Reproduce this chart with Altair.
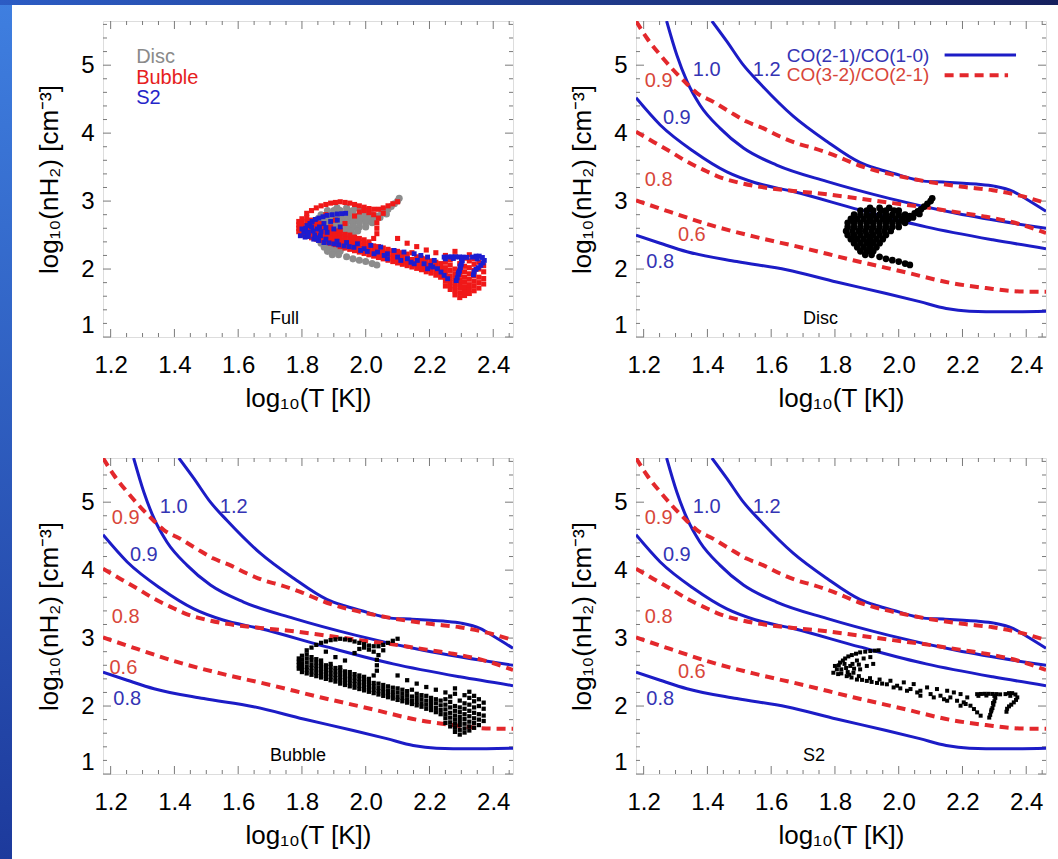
import altair as alt
import pandas as pd

FONT = "Liberation Sans"
W, H = 410, 316
BLUE_LINE = "#1c1cc6"
RED_LINE = "#e3282c"
BLUE_TXT = "#3434b4"
RED_TXT = "#d8463a"
TICK = "#7a7a7a"

# ---------------- axes ----------------
X_DOMAIN = [1.176, 2.462]
Y_DOMAIN = [1.0, 5.65]
X_TICKS = [1.2, 1.4, 1.6, 1.8, 2.0, 2.2, 2.4]
Y_TICKS = [1, 2, 3, 4, 5]
X_MINOR = [1.25, 1.30, 1.35, 1.45, 1.50, 1.55, 1.65, 1.70, 1.75, 1.85, 1.90, 1.95,
           2.05, 2.10, 2.15, 2.25, 2.30, 2.35, 2.45]
Y_MINOR = [1.2, 1.4, 1.6, 1.8, 2.2, 2.4, 2.6, 2.8, 3.2, 3.4, 3.6, 3.8, 4.2, 4.4, 4.6,
           4.8, 5.2, 5.4, 5.6]
X_TITLE = "log₁₀(T [K])"
Y_TITLE = "log₁₀(nH₂) [cm⁻³]"

# ---------------- model contours ----------------
# CO(2-1)/CO(1-0)  (solid blue)
CO21_08_X = [1.176, 1.252, 1.336, 1.492, 1.648, 1.805, 1.961, 2.066, 2.149, 2.222, 2.326, 2.462]
CO21_08_Y = [2.50, 2.38, 2.255, 2.11, 1.99, 1.81, 1.64, 1.52, 1.42, 1.38, 1.37, 1.38]
CO21_09_X = [1.176, 1.252, 1.357, 1.461, 1.55, 1.669, 1.878, 2.086, 2.295, 2.462]
CO21_09_Y = [4.52, 4.12, 3.73, 3.43, 3.27, 3.14, 2.87, 2.62, 2.43, 2.30]
CO21_10_X = [1.272, 1.304, 1.336, 1.377, 1.44, 1.513, 1.617, 1.774, 1.97, 2.18, 2.462]
CO21_10_Y = [5.65, 5.15, 4.76, 4.41, 4.07, 3.78, 3.53, 3.29, 3.04, 2.82, 2.60]
CO21_12_X = [1.414, 1.461, 1.513, 1.565, 1.669, 1.774, 1.878, 1.93, 1.982, 2.086, 2.14,
             2.243, 2.30, 2.36, 2.40, 2.462]
CO21_12_Y = [5.65, 5.35, 5.0, 4.73, 4.25, 3.88, 3.57, 3.48, 3.41, 3.29, 3.28,
             3.25, 3.22, 3.14, 3.03, 2.85]
# CO(3-2)/CO(2-1)  (dashed red)
CO32_06_X = [1.176, 1.283, 1.408, 1.544, 1.701, 1.857, 2.014, 2.17, 2.274, 2.378, 2.462]
CO32_06_Y = [3.01, 2.84, 2.65, 2.48, 2.31, 2.13, 1.96, 1.79, 1.72, 1.67, 1.665]
CO32_08_X = [1.176, 1.231, 1.283, 1.336, 1.388, 1.44, 1.50, 1.565, 1.669, 1.774, 1.857,
             1.982, 2.066, 2.191, 2.274, 2.38, 2.462]
CO32_08_Y = [4.02, 3.87, 3.73, 3.58, 3.46, 3.35, 3.27, 3.21, 3.15, 3.10, 3.05,
             2.97, 2.92, 2.83, 2.77, 2.66, 2.53]
CO32_09_X = [1.176, 1.21, 1.252, 1.289, 1.33, 1.367, 1.419, 1.471, 1.523, 1.576, 1.628,
             1.68, 1.732, 1.795, 1.878, 1.98, 2.086, 2.2, 2.295, 2.38, 2.462]
CO32_09_Y = [5.65, 5.40, 5.15, 4.95, 4.75, 4.59, 4.46, 4.31, 4.17, 4.07, 3.95,
             3.85, 3.78, 3.68, 3.52, 3.39, 3.29, 3.21, 3.16, 3.08, 2.97]

# contour labels
LAB_TEXT = ["1.0", "1.2", "0.9", "0.8", "0.9", "0.8", "0.6"]
LAB_FAM = ["CO21", "CO21", "CO21", "CO21", "CO32", "CO32", "CO32"]
LAB_X = [1.398, 1.586, 1.304, 1.252, 1.247, 1.247, 1.351]
LAB_Y = [4.93, 4.93, 4.22, 2.11, 4.76, 3.31, 2.50]
LAB_X_BUBBLE = [1.398, 1.586, 1.304, 1.252, 1.247, 1.247, 1.240]
LAB_Y_BUBBLE = [4.93, 4.93, 4.22, 2.11, 4.76, 3.31, 2.56]

# legends
LEG2_TEXT = ["CO(2-1)/CO(1-0)", "CO(3-2)/CO(2-1)"]
LEG2_X = [2.096, 2.096]
LEG2_Y = [5.14, 4.85]
LEG2_X0 = [2.144, 2.144]
LEG2_X1 = [2.368, 2.343]
LEG2_LY = [5.15, 4.85]
LEG1_TEXT = ["Disc", "Bubble", "S2"]
LEG1_X = [1.28, 1.28, 1.28]
LEG1_Y = [5.125, 4.81, 4.51]
PANEL_NAMES = ["Full", "Disc", "Bubble", "S2"]
NAME_X = 1.70
NAME_Y = 1.27

# ---------------- particle data ----------------
DISC_ROWS = [
    (2.90, [1.91, 1.94, 1.97]),
    (2.86, [1.88, 1.90, 1.92, 1.945, 1.96, 1.985, 2.00]),
    (2.80, [1.86, 1.88, 1.90, 1.92, 1.94, 1.96, 1.98, 2.00, 2.02]),
    (2.74, [1.85, 1.87, 1.89, 1.91, 1.93, 1.95, 1.97, 1.99, 2.01, 2.03]),
    (2.68, [1.84, 1.86, 1.88, 1.90, 1.92, 1.94, 1.96, 1.98, 2.00, 2.02]),
    (2.62, [1.84, 1.86, 1.88, 1.90, 1.92, 1.94, 1.96, 1.98, 2.00]),
    (2.56, [1.835, 1.855, 1.875, 1.895, 1.915, 1.935, 1.955, 1.975]),
    (2.50, [1.84, 1.86, 1.88, 1.90, 1.92, 1.94, 1.96]),
    (2.44, [1.85, 1.87, 1.89, 1.91, 1.93, 1.95]),
    (2.38, [1.86, 1.88, 1.90, 1.92, 1.94]),
    (2.32, [1.87, 1.89, 1.91, 1.93]),
    (2.26, [1.88, 1.90, 1.92]),
    (2.21, [1.895, 1.915]),
]
DISC_TAIL_X = [2.035, 2.045, 2.05, 2.06, 2.065, 2.07, 2.08, 2.09, 2.10, 2.105,
               1.94, 1.96, 1.98, 2.00, 2.02, 2.035]
DISC_TAIL_Y = [2.78, 2.76, 2.82, 2.85, 2.81, 2.88, 2.92, 2.96, 3.00, 3.04,
               2.18, 2.15, 2.13, 2.11, 2.08, 2.06]

BUBBLE_COLS = [
    (1.790, [2.55, 2.60, 2.65, 2.70]),
    (1.800, [2.50, 2.56, 2.62, 2.68, 2.74]),
    (1.815, [2.48, 2.53, 2.58, 2.64, 2.70, 2.76, 2.82]),
    (1.830, [2.46, 2.51, 2.56, 2.61, 2.67, 2.72, 2.86]),
    (1.845, [2.44, 2.49, 2.54, 2.59, 2.64, 2.69, 2.90]),
    (1.860, [2.42, 2.47, 2.52, 2.57, 2.62, 2.67, 2.93]),
    (1.875, [2.40, 2.45, 2.50, 2.55, 2.60, 2.80, 2.95]),
    (1.890, [2.38, 2.43, 2.48, 2.53, 2.58, 2.62, 2.97]),
    (1.905, [2.36, 2.41, 2.46, 2.51, 2.56, 2.72, 2.98]),
    (1.920, [2.33, 2.38, 2.43, 2.48, 2.53, 2.57, 2.99]),
    (1.935, [2.31, 2.36, 2.41, 2.46, 2.51, 2.67, 2.98]),
    (1.950, [2.29, 2.34, 2.39, 2.44, 2.50, 2.97]),
    (1.965, [2.27, 2.32, 2.37, 2.42, 2.47, 2.78, 2.95]),
    (1.980, [2.25, 2.30, 2.35, 2.40, 2.45, 2.84, 2.93]),
    (1.995, [2.23, 2.28, 2.33, 2.38, 2.43, 2.86, 2.91]),
    (2.010, [2.21, 2.26, 2.31, 2.36, 2.40, 2.83, 2.89]),
    (2.025, [2.19, 2.24, 2.29, 2.34, 2.45, 2.80, 2.88]),
    (2.035, [2.52, 2.60, 2.68]),
    (2.040, [2.17, 2.22, 2.27, 2.33, 2.75, 2.88]),
    (2.055, [2.15, 2.20, 2.25, 2.31, 2.82, 2.90]),
    (2.070, [2.13, 2.18, 2.23, 2.29, 2.93]),
    (2.085, [2.11, 2.16, 2.21, 2.27, 2.96]),
    (2.100, [2.09, 2.14, 2.20, 2.26, 2.45, 2.99]),
    (2.115, [2.07, 2.12, 2.18, 2.24]),
    (2.130, [2.05, 2.10, 2.16, 2.22, 2.38]),
    (2.145, [2.03, 2.08, 2.14, 2.24]),
    (2.160, [2.01, 2.06, 2.12, 2.18, 2.33]),
    (2.175, [1.99, 2.04, 2.10, 2.16]),
    (2.190, [1.96, 2.02, 2.08, 2.15, 2.28]),
    (2.205, [1.94, 2.00, 2.06, 2.12]),
    (2.220, [1.91, 1.97, 2.04, 2.10, 2.24]),
    (2.235, [1.88, 1.94, 2.01, 2.08]),
    (2.250, [1.75, 1.82, 1.88, 1.95, 2.02, 2.10, 2.20]),
    (2.265, [1.70, 1.76, 1.83, 1.90, 1.98, 2.06, 2.14]),
    (2.280, [1.62, 1.68, 1.74, 1.80, 1.86, 1.93, 2.00, 2.18, 2.26]),
    (2.295, [1.58, 1.65, 1.72, 1.78, 1.84, 1.91, 1.98, 2.08]),
    (2.310, [1.61, 1.67, 1.74, 1.81, 1.88, 1.96, 2.04, 2.16]),
    (2.325, [1.64, 1.70, 1.77, 1.85, 1.93, 2.02, 2.12, 2.21]),
    (2.340, [1.68, 1.75, 1.82, 1.90, 1.98, 2.07, 2.15]),
    (2.355, [1.72, 1.80, 1.88, 2.00, 2.10]),
    (2.370, [1.78, 1.86, 1.96, 2.05]),
]

S2_X = [1.806, 1.816, 1.832, 1.853, 1.879, 1.911, 1.937, 1.80, 1.795, 1.81, 1.82, 1.812,
        1.825, 1.842, 1.866, 1.895, 1.925,
        1.848, 1.869, 1.89, 1.911, 1.858, 1.879, 1.90, 1.92, 1.835, 1.84, 1.855, 1.86,
        1.875, 1.83,
        1.837, 1.852, 1.869, 1.885, 1.90, 1.915, 1.932, 1.948, 1.963, 1.82, 1.845, 1.875,
        1.91, 1.94,
        1.974, 1.995, 2.016, 2.037, 2.047, 2.068, 2.089, 2.10, 2.12, 2.131, 2.152, 2.162,
        2.173, 2.183, 2.194, 2.204, 2.215, 2.225, 2.236, 2.246, 2.257, 2.194, 2.152, 2.11,
        2.068, 2.026, 1.984, 2.005, 2.058, 2.142, 2.21,
        2.246, 2.258, 2.27, 2.282, 2.294, 2.306, 2.318, 2.25, 2.275, 2.30,
        2.303, 2.30, 2.297, 2.294, 2.29, 2.287, 2.284, 2.296, 2.291,
        2.335, 2.346, 2.356, 2.366, 2.372, 2.368, 2.361, 2.353, 2.346, 2.34, 2.338, 2.35]
S2_Y = [2.54, 2.64, 2.70, 2.75, 2.79, 2.81, 2.82, 2.59, 2.49, 2.47, 2.54, 2.60,
        2.67, 2.73, 2.77, 2.80, 2.815,
        2.59, 2.67, 2.70, 2.72, 2.49, 2.54, 2.59, 2.62, 2.56, 2.50, 2.62, 2.55,
        2.61, 2.62,
        2.44, 2.42, 2.39, 2.385, 2.37, 2.355, 2.34, 2.33, 2.32, 2.48, 2.46, 2.44,
        2.41, 2.39,
        2.372, 2.299, 2.348, 2.25, 2.323, 2.225, 2.274, 2.176, 2.25, 2.152, 2.225, 2.127,
        2.20, 2.078, 2.176, 2.054, 2.127, 2.005, 1.956, 1.907, 1.858, 2.005, 2.078, 2.127,
        2.152, 2.225, 2.274, 2.26, 2.20, 2.10, 2.03,
        2.175, 2.178, 2.18, 2.18, 2.178, 2.176, 2.172, 2.15, 2.155, 2.15,
        2.12, 2.07, 2.02, 1.97, 1.92, 1.87, 1.83, 2.045, 1.945,
        2.176, 2.19, 2.19, 2.17, 2.127, 2.09, 2.054, 2.02, 1.995, 1.96, 1.916, 2.15]

# slide decoration colours
SLIDE_TOP = "#3f7fe0"
SLIDE_BOTTOM = "#1d3a9c"
SLIDE_BAND_L = "#2c5cc4"
SLIDE_BAND_R = "#16205e"

# ---------------- tables ----------------
curve_rows = []
for fam, lev, xs, ys in [("CO21", "0.8", CO21_08_X, CO21_08_Y), ("CO21", "0.9", CO21_09_X, CO21_09_Y),
                         ("CO21", "1.0", CO21_10_X, CO21_10_Y), ("CO21", "1.2", CO21_12_X, CO21_12_Y),
                         ("CO32", "0.6", CO32_06_X, CO32_06_Y), ("CO32", "0.8", CO32_08_X, CO32_08_Y),
                         ("CO32", "0.9", CO32_09_X, CO32_09_Y)]:
    for i, (a, b) in enumerate(zip(xs, ys)):
        curve_rows.append({"family": fam, "level": fam + lev, "i": i, "x": a, "y": b})
curves = pd.DataFrame(curve_rows)

disc = pd.DataFrame([{"x": xv, "y": yv} for yv, xs in DISC_ROWS for xv in xs] +
                    [{"x": a, "y": b} for a, b in zip(DISC_TAIL_X, DISC_TAIL_Y)])
bubble = pd.DataFrame([{"x": xv, "y": yv} for xv, ys in BUBBLE_COLS for yv in ys])
s2 = pd.DataFrame({"x": S2_X, "y": S2_Y})

XS = alt.Scale(domain=X_DOMAIN, nice=False, zero=False)
YS = alt.Scale(domain=Y_DOMAIN, nice=False, zero=False)


def xy():
    return dict(x=alt.X("x:Q", scale=XS, axis=None), y=alt.Y("y:Q", scale=YS, axis=None))


AX_DF = pd.DataFrame({"x": X_DOMAIN, "y": Y_DOMAIN})


def frame_layers():
    main = alt.Chart(AX_DF).mark_point(opacity=0).encode(
        x=alt.X("x:Q", scale=XS, axis=alt.Axis(
            orient="bottom", values=X_TICKS, format=".1f", labelFont=FONT, labelFontSize=24,
            labelColor="black", labelPadding=16, ticks=False, tickSize=0, domain=False,
            grid=False, labelFlush=False, title=X_TITLE, titleFont=FONT, titleFontSize=26,
            titleFontWeight="normal", titleColor="black", titlePadding=8)),
        y=alt.Y("y:Q", scale=YS, axis=alt.Axis(
            orient="left", values=Y_TICKS, format="d", labelFont=FONT, labelFontSize=24,
            labelColor="black", labelPadding=9, ticks=False, tickSize=0, domain=False,
            grid=False, labelFlush=True, title=Y_TITLE, titleFont=FONT, titleFontSize=26,
            titleFontWeight="normal", titleColor="black", titlePadding=18)),
    )
    layers = [main]
    # inward IDL-style ticks on all four sides
    for vals, size in [(X_TICKS, 8), (X_MINOR, 4)]:
        df = pd.DataFrame({"x": vals})
        for y0, y1 in [(H, H - size), (0, size)]:
            layers.append(alt.Chart(df).mark_rule(color=TICK, strokeWidth=1).encode(
                x=alt.X("x:Q", scale=XS, axis=None), y=alt.value(y0), y2=alt.value(y1)))
    for vals, size in [(Y_TICKS, 8), (Y_MINOR, 4)]:
        df = pd.DataFrame({"y": vals})
        for x0, x1 in [(0, size), (W, W - size)]:
            layers.append(alt.Chart(df).mark_rule(color=TICK, strokeWidth=1).encode(
                y=alt.Y("y:Q", scale=YS, axis=None), x=alt.value(x0), x2=alt.value(x1)))
    return layers


def contour_layers(lab_x, lab_y):
    blue = alt.Chart(curves[curves.family == "CO21"]).mark_line(
        color=BLUE_LINE, strokeWidth=3, interpolate="monotone", clip=True
    ).encode(**xy(), detail="level:N", order="i:Q")
    red = alt.Chart(curves[curves.family == "CO32"]).mark_line(
        color=RED_LINE, strokeWidth=4, strokeDash=[9, 6], interpolate="monotone", clip=True
    ).encode(**xy(), detail="level:N", order="i:Q")
    labs = pd.DataFrame({"t": LAB_TEXT, "fam": LAB_FAM, "x": lab_x, "y": lab_y})
    labs["c"] = labs["fam"].map({"CO21": BLUE_TXT, "CO32": RED_TXT})
    text = alt.Chart(labs).mark_text(font=FONT, fontSize=20, align="center", baseline="middle").encode(
        **xy(), text="t:N", color=alt.Color("c:N", scale=None))
    return [blue, red, text]


def name_layer(name):
    df = pd.DataFrame({"x": [NAME_X], "y": [NAME_Y], "t": [name]})
    return alt.Chart(df).mark_text(font=FONT, fontSize=18, align="left", baseline="middle",
                                   color="black").encode(**xy(), text="t:N")


def pts(df, color, size, shape="square"):
    if shape == "circle":
        m = alt.Chart(df).mark_circle(color=color, size=size, opacity=1)
    else:
        m = alt.Chart(df).mark_square(color=color, size=size, opacity=1)
    return m.encode(**xy())


def panel(layers):
    return alt.layer(*layers).resolve_axis(x="independent", y="independent").properties(width=W, height=H)


# slide background strips (drawn outside the first panel, in the page margin)
one = pd.DataFrame({"k": [0]})
strip_left = alt.Chart(one).mark_rect(
    color=alt.LinearGradient(gradient="linear", x1=0, x2=0, y1=0, y2=1,
                             stops=[alt.GradientStop(color=SLIDE_TOP, offset=0),
                                    alt.GradientStop(color=SLIDE_BOTTOM, offset=1)]),
    clip=False,
).encode(x=alt.value(-103), x2=alt.value(-91), y=alt.value(-21), y2=alt.value(838))
strip_top = alt.Chart(one).mark_rect(
    color=alt.LinearGradient(gradient="linear", x1=0, x2=1, y1=0, y2=0,
                             stops=[alt.GradientStop(color=SLIDE_BAND_L, offset=0),
                                    alt.GradientStop(color=SLIDE_BAND_R, offset=1)]),
    clip=False,
).encode(x=alt.value(-103), x2=alt.value(955), y=alt.value(-21), y2=alt.value(-16))

# Panel 1: Full
leg1 = pd.DataFrame({"t": LEG1_TEXT, "x": LEG1_X, "y": LEG1_Y, "c": ["#8a8a8a", "#e62020", "#2525c8"]})
leg1_layer = alt.Chart(leg1).mark_text(font=FONT, fontSize=20, align="left", baseline="middle").encode(
    **xy(), text="t:N", color=alt.Color("c:N", scale=None))
p1 = panel([strip_left, strip_top] + frame_layers() + [
    pts(disc, "#8c8c8c", 50, "circle"),
    pts(bubble, "#f01818", 26),
    pts(s2, "#1c1cd0", 24),
    leg1_layer, name_layer(PANEL_NAMES[0])])

# Panel 2: Disc (with legend)
leg2t = pd.DataFrame({"t": LEG2_TEXT, "x": LEG2_X, "y": LEG2_Y, "c": [BLUE_TXT, RED_TXT]})
leg2_text = alt.Chart(leg2t).mark_text(font=FONT, fontSize=19, align="right", baseline="middle").encode(
    **xy(), text="t:N", color=alt.Color("c:N", scale=None))
leg2l = pd.DataFrame({"x": LEG2_X0, "x2": LEG2_X1, "y": LEG2_LY})
leg2_blue = alt.Chart(leg2l.iloc[[0]]).mark_rule(color=BLUE_LINE, strokeWidth=3).encode(
    **xy(), x2="x2:Q")
leg2_red = alt.Chart(leg2l.iloc[[1]]).mark_rule(color=RED_LINE, strokeWidth=4, strokeDash=[9, 6]).encode(
    **xy(), x2="x2:Q")
p2 = panel(frame_layers() + contour_layers(LAB_X, LAB_Y) + [
    leg2_text, leg2_blue, leg2_red,
    pts(disc, "black", 45, "circle"), name_layer(PANEL_NAMES[1])])

# Panel 3: Bubble
p3 = panel(frame_layers() + contour_layers(LAB_X_BUBBLE, LAB_Y_BUBBLE) + [
    pts(bubble, "black", 18), name_layer(PANEL_NAMES[2])])

# Panel 4: S2
p4 = panel(frame_layers() + contour_layers(LAB_X, LAB_Y) + [
    pts(s2, "black", 16), name_layer(PANEL_NAMES[3])])

chart = alt.concat(p1, p2, p3, p4, columns=2, spacing={"row": 121, "column": 123}, bounds="flush").properties(
    autosize=alt.AutoSizeParams(type="none"),
    padding={"left": 103, "top": 21, "right": 955, "bottom": 838},
).configure_view(stroke="#9a9a9a", strokeWidth=1).configure(font=FONT, background="white")

chart.save("out.html", embed_options={"renderer": "svg", "actions": False})
